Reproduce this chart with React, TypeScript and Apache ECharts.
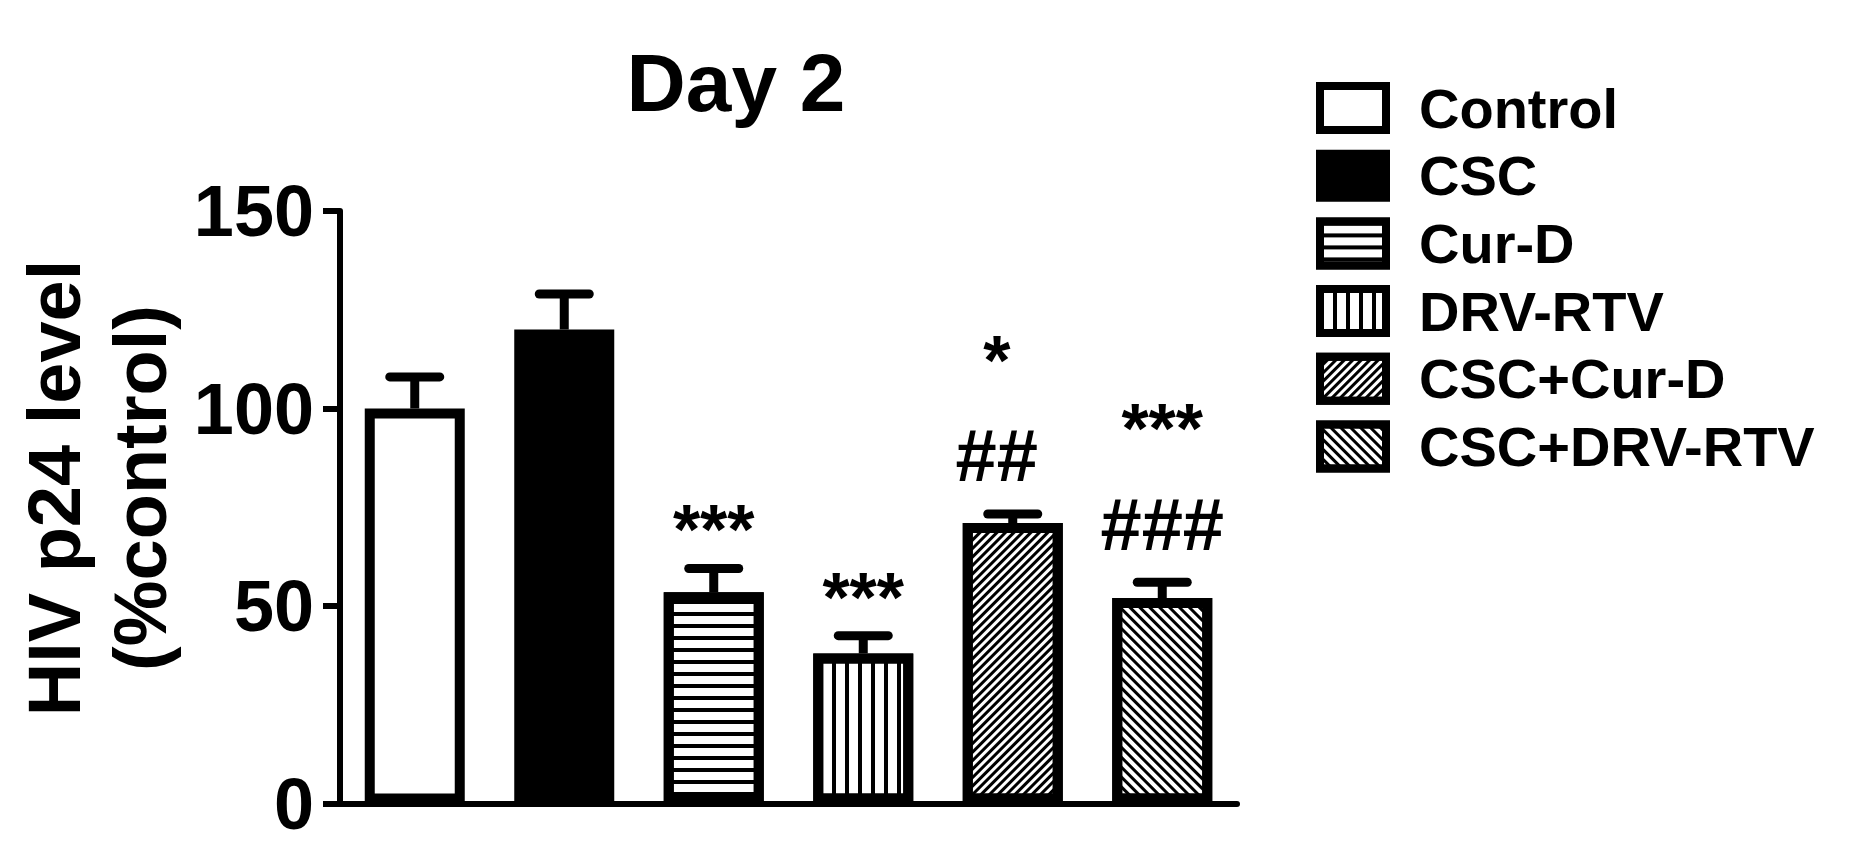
import React, { useEffect, useRef } from 'react';
import * as echarts from 'echarts';

// ---- data ----
const categories = ['Control', 'CSC', 'Cur-D', 'DRV-RTV', 'CSC+Cur-D', 'CSC+DRV-RTV'];
const means = [100, 120, 53.5, 38, 71, 52];
const errors = [8, 9, 6, 4.5, 2.3, 4];
const starMarks = ['', '', '***', '***', '*', '***'];
const hashMarks = ['', '', '', '', '##', '###'];
const yTicks = [0, 50, 100, 150];
const chartTitle = 'Day 2';
const yAxisTitle = ['HIV p24 level', '(%control)'];

// ---- styles ----
const FONT = 'Arial, "Liberation Sans", Helvetica, sans-serif';
const fills = ['#ffffff', '#000000', '#ffffff', '#ffffff', '#ffffff', '#ffffff'];
const decals: any[] = [
  null,
  null,
  { symbol: 'rect', symbolSize: 1, dashArrayX: [1, 0], dashArrayY: [4, 8], rotation: 0, color: '#000', backgroundColor: null },
  { symbol: 'rect', symbolSize: 1, dashArrayX: [4, 9], dashArrayY: [1, 0], rotation: 0, color: '#000', backgroundColor: null },
  { symbol: 'rect', symbolSize: 1, dashArrayX: [1, 0], dashArrayY: [3, 3], rotation: -Math.PI / 4, color: '#000', backgroundColor: null },
  { symbol: 'rect', symbolSize: 1, dashArrayX: [1, 0], dashArrayY: [3, 4], rotation: Math.PI / 4, color: '#000', backgroundColor: null },
];
const labelNudgeX = [0, 0, 0, 0, -16, 0];

export default function App() {
  const ref = useRef<HTMLDivElement>(null);

  useEffect(() => {
    if (!ref.current) return;
    const chart = echarts.init(ref.current, null, { renderer: 'svg' });

    const barSeries = categories.map((name, i) => ({
      name,
      type: 'bar',
      barWidth: 100,
      barGap: '-100%',
      z: 2,
      data: categories.map((_, j) => (j === i ? means[i] : '-')),
      itemStyle: {
        color: fills[i],
        borderColor: '#000',
        borderWidth: 10,
        ...(decals[i] ? { decal: decals[i] } : {}),
      },
      emphasis: { disabled: true },
    }));

    const errorSeries = {
      name: 'error',
      type: 'custom',
      z: 5,
      encode: { x: 0, y: 1 },
      data: categories.map((_, i) => [i, means[i], errors[i]]),
      renderItem: (params: any, api: any) => {
        const i = api.value(0);
        const v = api.value(1);
        const e = api.value(2);
        const base = api.coord([i, v]);
        const top = api.coord([i, v + e]);
        const x = base[0];
        const children: any[] = [
          { type: 'line', shape: { x1: x, y1: base[1], x2: x, y2: top[1] }, style: { stroke: '#000', lineWidth: 9 } },
          { type: 'line', shape: { x1: x - 25, y1: top[1], x2: x + 25, y2: top[1] }, style: { stroke: '#000', lineWidth: 9, lineCap: 'round' } },
        ];
        const tx = x + labelNudgeX[i];
        const hash = hashMarks[i];
        const star = starMarks[i];
        const hashStyle = { fill: '#000', fontSize: 74, fontWeight: 'bold', fontFamily: FONT, align: 'center', verticalAlign: 'middle' };
        const starStyle = { fill: '#000', fontSize: 70, fontWeight: 'bold', fontFamily: FONT, align: 'center', verticalAlign: 'middle' };
        if (hash) {
          const hy = top[1] - 58;
          children.push({ type: 'text', style: { ...hashStyle, text: hash, x: tx, y: hy } });
          if (star) children.push({ type: 'text', style: { ...starStyle, text: star, x: tx, y: hy - 107 + 12 } });
        } else if (star) {
          children.push({ type: 'text', style: { ...starStyle, text: star, x: tx, y: top[1] - 46 + 8 } });
        }
        return { type: 'group', children };
      },
    };

    chart.setOption({
      animation: false,
      backgroundColor: '#ffffff',
      textStyle: { fontFamily: FONT },
      grid: { left: 340, right: 634, top: 211, bottom: 46.5, containLabel: false },
      xAxis: {
        type: 'category',
        data: categories,
        axisLine: { show: true, lineStyle: { color: '#000', width: 6 } },
        axisTick: { show: false },
        axisLabel: { show: false },
        splitLine: { show: false },
      },
      yAxis: {
        type: 'value',
        min: yTicks[0],
        max: yTicks[yTicks.length - 1],
        interval: yTicks[1] - yTicks[0],
        axisLine: { show: true, lineStyle: { color: '#000', width: 6 } },
        axisTick: { show: true, length: 17, lineStyle: { color: '#000', width: 6 } },
        axisLabel: { color: '#000', fontSize: 72, fontWeight: 'bold', fontFamily: FONT, margin: 26 },
        splitLine: { show: false },
      },
      legend: {
        orient: 'vertical',
        left: 1316,
        top: 80,
        padding: 0,
        itemWidth: 66,
        itemHeight: 44,
        itemGap: 11.7,
        icon: 'rect',
        selectedMode: false,
        itemStyle: { borderWidth: 8, borderColor: '#000' },
        textStyle: { fontSize: 56, fontWeight: 'bold', fontFamily: FONT, color: '#000', padding: [0, 0, 0, 28], lineHeight: 54 },
        data: categories,
      },
      graphic: [
        {
          type: 'text',
          x: 736,
          y: 82,
          style: { text: chartTitle, fill: '#000', fontSize: 82, fontWeight: 'bold', fontFamily: FONT, align: 'center', verticalAlign: 'middle' },
        },
        {
          type: 'text',
          x: 97,
          y: 488,
          rotation: Math.PI / 2,
          style: {
            text: yAxisTitle.join('\n'),
            fill: '#000',
            fontSize: 74,
            fontWeight: 'bold',
            fontFamily: FONT,
            lineHeight: 86,
            align: 'center',
            verticalAlign: 'middle',
          },
        },
      ],
      series: [...barSeries, errorSeries],
    });

    return () => chart.dispose();
  }, []);

  return <div ref={ref} style={{ position: 'absolute', left: 0, top: 0, width: 1871, height: 850 }} />;
}
